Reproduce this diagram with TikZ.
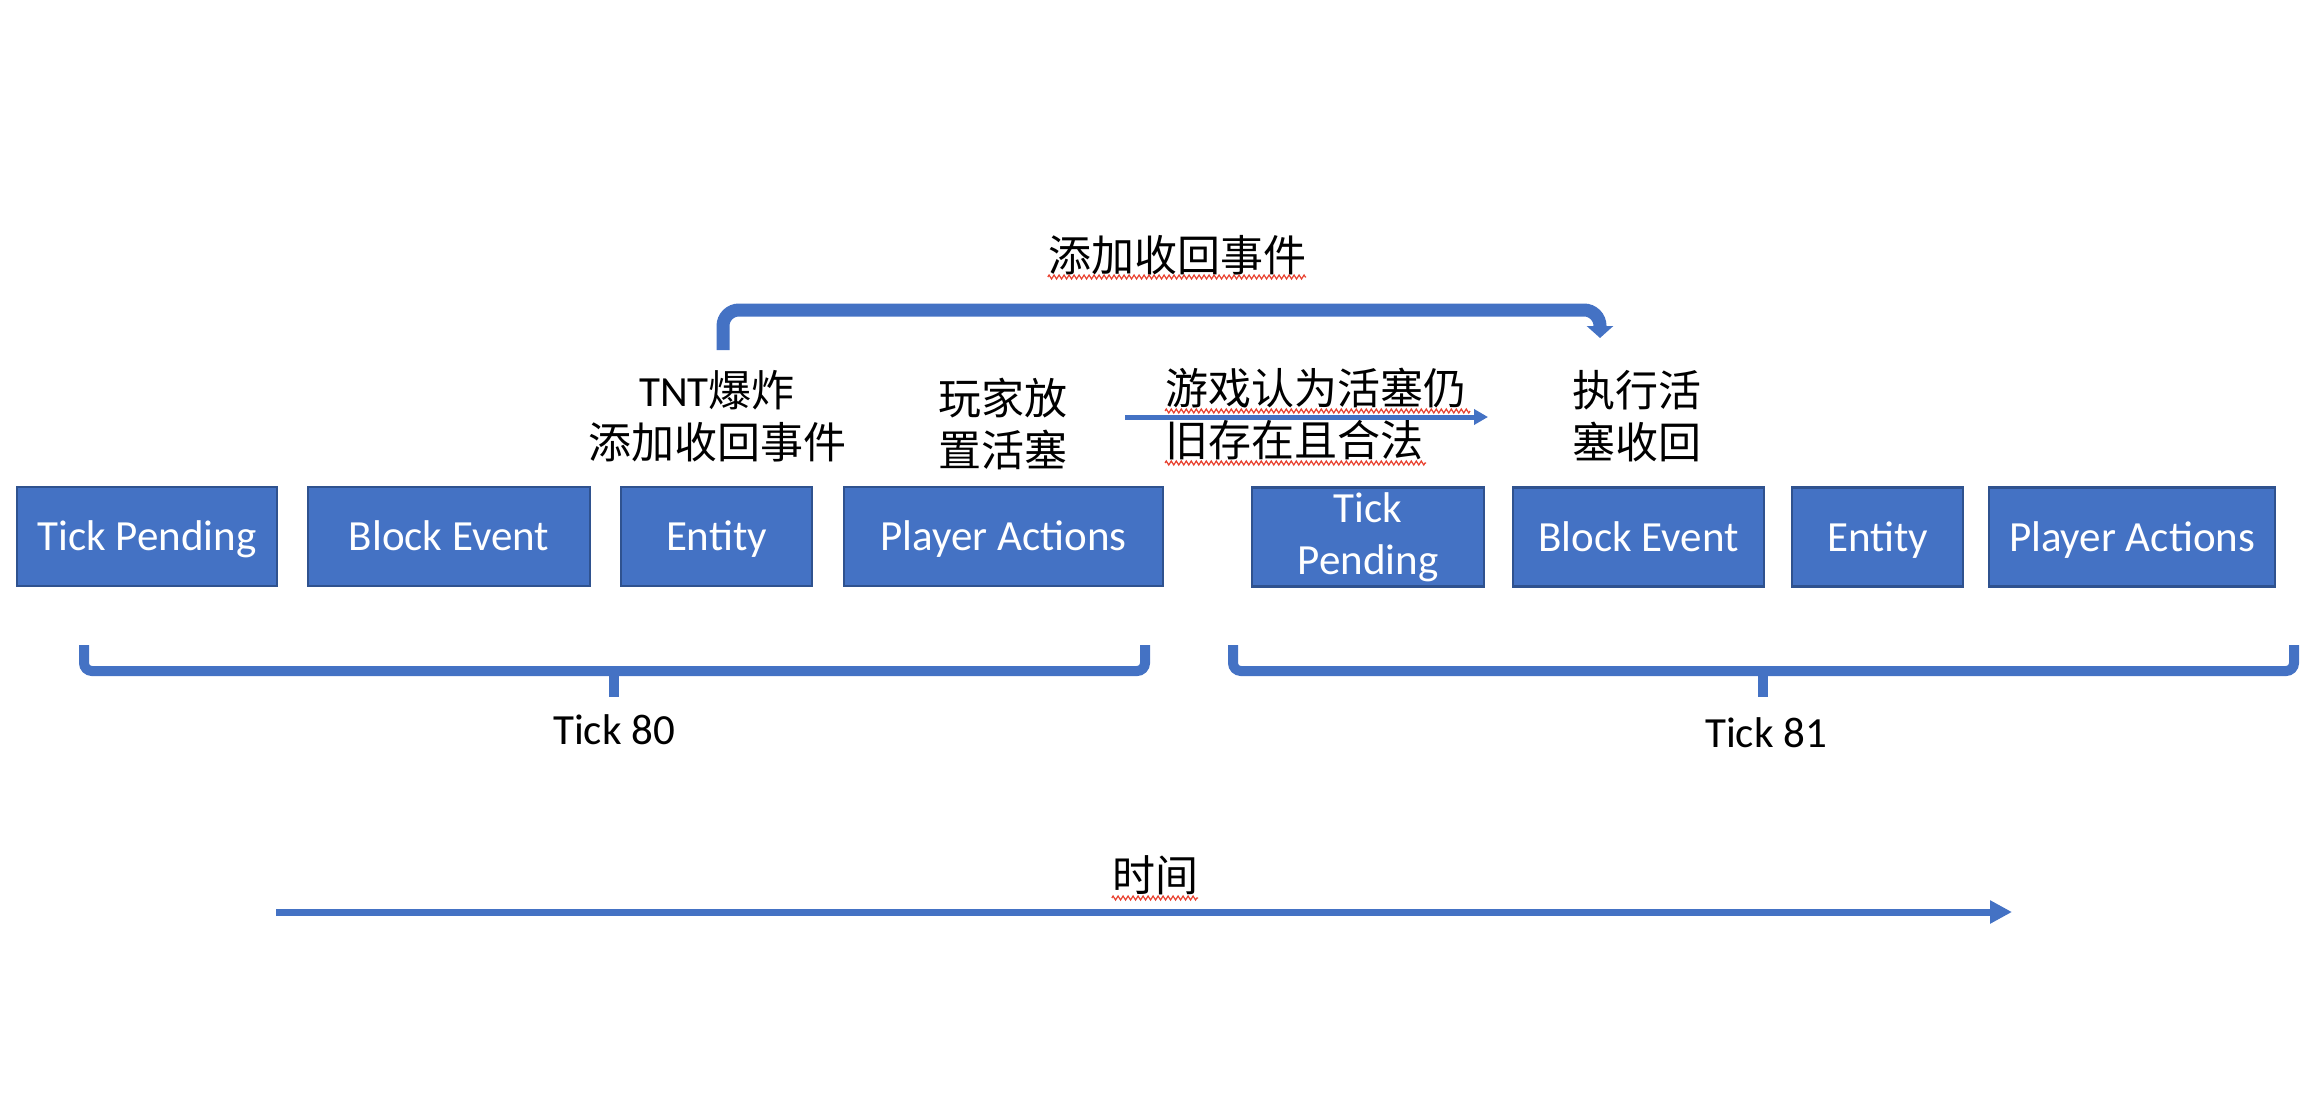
\documentclass[tikz,border=0pt]{standalone}
\usepackage{fontspec}
\setmainfont{Carlito}
\newfontfamily\cjk{Noto Sans CJK SC}
\usetikzlibrary{arrows.meta,decorations.pathmorphing}
\definecolor{obl}{HTML}{4472C4}
\definecolor{obd}{HTML}{2F528F}
\definecolor{sq}{HTML}{E8412F}
\begin{document}
\begin{tikzpicture}[x=1pt,y=-1pt,
  box/.style={draw=obd, line width=2.5pt, fill=obl, text=white, minimum height=99pt, inner sep=0pt, font=\fontsize{43}{52}\selectfont, align=center},
  onebox/.style={box, text height=28pt, text depth=0pt},
  lbl/.style={inner sep=0pt, font=\fontsize{43}{52}\selectfont, align=center},
  cjklbl/.style={inner sep=0pt, font=\cjk\fontsize{43}{52}\selectfont, align=center},
  brace/.style={draw=obl, line width=10pt, rounded corners=8pt},
  squig/.style={draw=sq, line width=1.2pt, decorate, decoration={zigzag, amplitude=2pt, segment length=5pt}},
  conn/.style={draw=obl},
]
\useasboundingbox (0,0) rectangle (2304,1110);

% boxes
\node[onebox, minimum width=260pt] (tp1) at (147,536.5) {Tick Pending};
\node[onebox, minimum width=282pt] (be1) at (449,536.5) {Block Event};
\node[onebox, minimum width=191pt] (en1) at (716.5,536.5) {Entity};
\node[onebox, minimum width=319pt] (pa1) at (1003.5,536.5) {Player Actions};
\node[box, minimum width=232pt] (tp2) at (1368,537) {Tick\\Pending};
\node[onebox, minimum width=251pt] (be2) at (1638.5,537) {Block Event};
\node[onebox, minimum width=171pt] (en2) at (1877.5,537) {Entity};
\node[onebox, minimum width=286pt] (pa2) at (2132,537) {Player Actions};

% labels
\node[lbl] (tnt) at (717,416) {TNT{\cjk 爆炸}\\{\cjk 添加收回事件}};
\node[cjklbl] (put) at (1003,424) {玩家放\\置活塞};
\node[cjklbl, align=left, anchor=west] (game) at (1165,414) {游戏认为活塞仍\\旧存在且合法};
\node[cjklbl] (exec) at (1637,416) {执行活\\塞收回};
\node[cjklbl] (add) at (1177,255) {添加收回事件};
\node[lbl] (t80) at (614,730) {Tick 80};
\node[lbl] (t81) at (1766,733) {Tick 81};
\node[cjklbl] (time) at (1155,875) {时间};

% bent arrow
\coordinate (ba1) at (723,350);
\coordinate (ba2) at (1600,338);
\draw[conn, line width=13pt, rounded corners=16pt, -{Triangle[width=26pt,length=12pt]}] (ba1) |- (1600,310) -- (ba2);

% small arrow
\coordinate (sa1) at (1125,417);
\coordinate (sa2) at (1488,417);
\draw[conn, line width=5pt, -{Triangle[width=15pt,length=14pt]}] (sa1) -- (sa2);

% time arrow
\coordinate (ta1) at (276,912);
\coordinate (ta2) at (2012,912);
\draw[conn, line width=7pt, -{Triangle[width=22pt,length=22pt]}] (ta1) -- (ta2);

% braces
\draw[brace] (84,645) |- (614,671) -| (1145,645);
\draw[brace, rounded corners=0pt] (614,666) -- (614,697);
\draw[brace] (1233,645) |- (1763,671) -| (2294,645);
\draw[brace, rounded corners=0pt] (1763,666) -- (1763,697);

% spell-check squiggles
\draw[squig] ([yshift=-22pt]add.west) -- ([yshift=-22pt]add.east);
\draw[squig] ([yshift=3pt]game.west) -- ++(305,0);
\draw[squig] ([yshift=-49pt]game.west) -- ++(261,0);
\draw[squig] ([yshift=-23pt]time.west) -- ([yshift=-23pt]time.east);
\end{tikzpicture}
\end{document}
